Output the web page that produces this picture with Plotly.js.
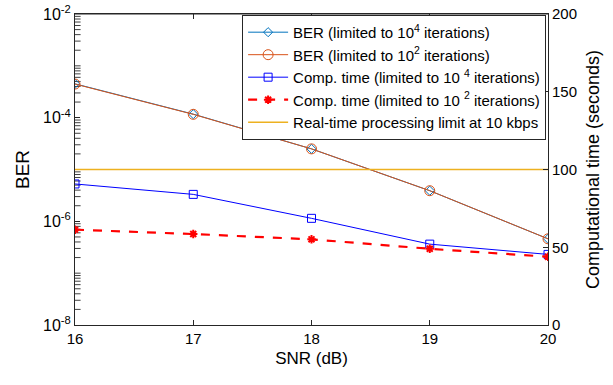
<!DOCTYPE html>
<html>
<head>
<meta charset="utf-8">
<script src="https://cdn.plot.ly/plotly-3.0.1.min.js"></script>
<style>html,body{margin:0;padding:0;background:#fff;}#chart{width:613px;height:385px;}</style>
</head>
<body>
<div id="chart"></div>
<script>
const snr = [16, 17, 18, 19, 20];
const berIter1e4 = [4.5e-4, 1.17e-4, 2.5e-5, 3.9e-6, 4.6e-7];
const berIter1e2 = [4.45e-4, 1.16e-4, 2.5e-5, 3.9e-6, 4.6e-7];
const timeIter1e4 = [90.7, 84.0, 68.6, 52.0, 45.4];
const timeIter1e2 = [61.3, 58.5, 55.1, 49.0, 43.9];
const realtimeLimit = 100;
const berTickVals = [1e-8, 1e-6, 1e-4, 1e-2];
const berTickText = ['10<sup>-8</sup>', '10<sup>-6</sup>', '10<sup>-4</sup>', '10<sup>-2</sup>'];
const timeTickVals = [0, 50, 100, 150, 200];
const names = [
  'BER (limited to 10<sup>4</sup> iterations)',
  'BER (limited to 10<sup>2</sup> iterations)',
  'Comp. time (limited to 10 <sup>4</sup> iterations)',
  'Comp. time (limited to 10 <sup>2</sup> iterations)',
  'Real-time processing limit at 10 kbps'
];

// minor tick positions for the log axis (2..9 x 10^k, plus odd decades)
const minorVals = [];
for (let e = -8; e < -2; e++) {
  for (let m = 1; m <= 9; m++) {
    if (m === 1 && (e % 2 === 0)) continue;
    minorVals.push(m * Math.pow(10, e));
  }
}

const traces = [
  // minor ticks of the log axis, drawn as short horizontal markers clipped at the axis
  {x: minorVals.map(() => snr[0]), y: minorVals, type: 'scatter', mode: 'markers',
   marker: {symbol: 'line-ew', size: 8, line: {color: '#404040', width: 1}},
   showlegend: false, hoverinfo: 'skip', cliponaxis: true},
  {x: snr, y: berIter1e4, name: names[0], type: 'scatter', mode: 'lines+markers',
   line: {color: '#0072BD', width: 1},
   marker: {symbol: 'diamond-open', size: 7, color: '#0072BD', line: {width: 1}}},
  {x: snr, y: berIter1e2, name: names[1], type: 'scatter', mode: 'lines+markers',
   line: {color: '#D95319', width: 1},
   marker: {symbol: 'circle-open', size: 10, color: '#D95319', line: {width: 1}}},
  {x: snr, y: timeIter1e4, name: names[2], yaxis: 'y2', type: 'scatter', mode: 'lines+markers',
   line: {color: '#0000FF', width: 1},
   marker: {symbol: 'square-open', size: 8, color: '#0000FF', line: {width: 1}}},
  {x: snr, y: timeIter1e2, name: names[3], yaxis: 'y2', type: 'scatter', mode: 'lines+markers',
   line: {color: '#FF0000', width: 2.2, dash: 'dash'},
   marker: {symbol: 'asterisk-open', size: 7, color: '#FF0000', line: {width: 2, color: '#FF0000'}}},
  {x: [snr[0], snr[snr.length-1]], y: [realtimeLimit, realtimeLimit], name: names[4], yaxis: 'y2',
   type: 'scatter', mode: 'lines', line: {color: '#EDB120', width: 1.6}}
];

const fontFam = 'Liberation Sans, Arial, Helvetica, sans-serif';
const axisCol = '#262626';
const layout = {
  width: 613, height: 385,
  margin: {l: 75, r: 65, t: 14, b: 60, pad: 0},
  paper_bgcolor: '#fff', plot_bgcolor: '#fff',
  font: {family: fontFam, size: 15, color: '#000'},
  showlegend: true,
  xaxis: {
    range: [16, 20], tickvals: snr, ticktext: snr.map(String),
    ticks: 'inside', ticklen: 5, tickcolor: axisCol, showline: true, linecolor: axisCol, linewidth: 1,
    mirror: 'ticks', showgrid: false, zeroline: false,
    tickfont: {size: 15, color: '#000'},
    title: {text: 'SNR (dB)', font: {size: 17, color: '#000'}, standoff: 6}
  },
  yaxis: {
    type: 'log', range: [-8, -2], tickvals: berTickVals, ticktext: berTickText,
    ticks: 'inside', ticklen: 5, tickcolor: axisCol, showline: true, linecolor: axisCol, linewidth: 1,
    showgrid: false, zeroline: false,
    tickfont: {size: 16, color: '#000'},
    title: {text: 'BER', font: {size: 19, color: '#000'}, standoff: 8}
  },
  yaxis2: {
    overlaying: 'y', side: 'right', range: [0, 200], tickvals: timeTickVals,
    ticks: 'inside', ticklen: 5, tickcolor: axisCol, showline: true, linecolor: axisCol, linewidth: 1,
    showgrid: false, zeroline: false,
    tickfont: {size: 15, color: '#000'},
    title: {text: 'Computational time (seconds)', font: {size: 18, color: '#000'}, standoff: 10}
  },
  legend: {
    x: 0.996, y: 0.997, xanchor: 'right', yanchor: 'top',
    bgcolor: '#fff', bordercolor: axisCol, borderwidth: 1,
    font: {size: 15, color: '#000'}, traceorder: 'normal',
    tracegroupgap: 0, itemwidth: 40
  },
  shapes: [
    {type: 'line', xref: 'paper', yref: 'paper', x0: 0, x1: 1, y0: 1, y1: 1, line: {color: axisCol, width: 1}}
  ]
};

Plotly.newPlot('chart', traces, layout, {displayModeBar: false, staticPlot: true});
</script>
</body>
</html>
